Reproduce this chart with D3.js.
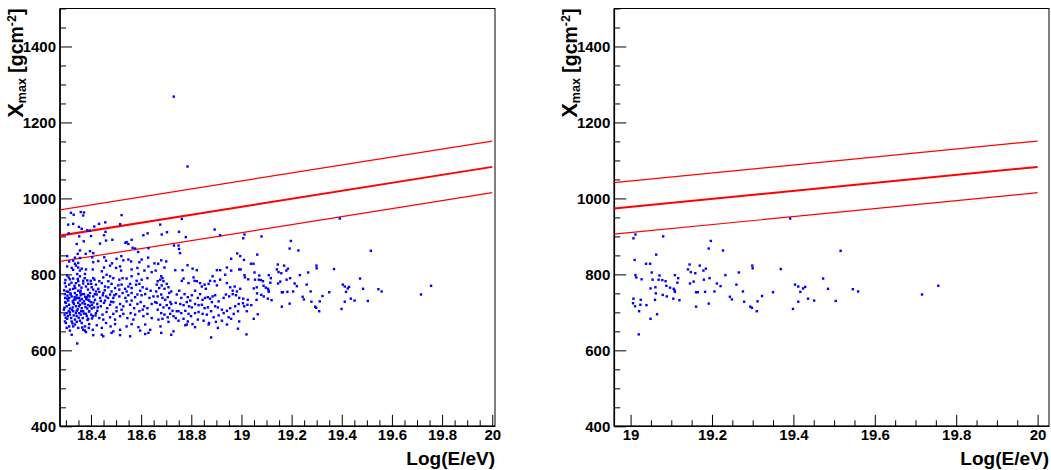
<!DOCTYPE html>
<html><head><meta charset="utf-8">
<script src="https://cdn.jsdelivr.net/npm/d3@7"></script>
<style>
body{margin:0;background:#fff;}
svg{display:block;}
text{font-family:"Liberation Sans",Arial,Helvetica,sans-serif;font-weight:bold;fill:#000;}
</style>
</head><body>
<svg id="c" width="1051" height="470"></svg>
<script>
// ---- data: events [log10(E/eV), Xmax g/cm^2] ----
const eventsBelow19 = [
[18.730,1268],[18.785,1084],
[18.320,962],[18.359,964],[18.372,963],[18.369,955],[18.522,956],[18.329,933],[18.352,925],[18.363,920],[18.413,926],[18.432,933],[18.516,932],[18.385,916],[18.395,915],[18.311,908],[18.458,912],[18.452,903],[18.400,901],[18.626,908],[18.609,903],[18.353,900],[18.371,887],[18.343,880],[18.436,881],[18.485,891],[18.460,889],[18.542,885],[18.549,880],[18.537,883],[18.562,891],[18.576,868],[18.566,870],[18.588,859],[18.629,869],[18.396,861],[18.409,856],[18.379,854],[18.356,863],[18.347,854],[18.305,848],[18.336,844],[18.329,836],[18.356,843],[18.405,845],[18.409,832],[18.429,835],[18.453,845],[18.460,836],[18.484,829],[18.502,841],[18.521,848],[18.529,837],[18.549,839],[18.560,834],[18.593,832],[18.602,839],[18.628,844],[18.653,829],[18.336,828],[18.313,834],[18.349,830],[18.309,931],[18.457,937],[18.331,957],
[18.676,931],[18.762,946],[18.682,905],[18.703,911],[18.751,912],[18.778,898],[18.893,918],[18.915,903],[18.731,876],[18.749,876],[18.751,867],[18.755,856],[18.983,855],[18.959,841],[18.995,848],[18.680,837],[18.700,834],[18.668,828],
[18.305,821],[18.323,817],[18.340,823],[18.349,818],[18.363,815],[18.380,813],[18.407,813],[18.443,808],[18.452,818],[18.476,823],[18.500,817],[18.516,821],[18.520,810],[18.562,813],[18.585,817],[18.613,810],[18.629,821],[18.329,812],[18.356,810],
[18.305,797],[18.316,787],[18.329,789],[18.345,801],[18.356,795],[18.369,783],[18.385,784],[18.399,783],[18.409,790],[18.433,782],[18.449,792],[18.462,799],[18.476,795],[18.489,790],[18.513,786],[18.526,790],[18.542,789],[18.562,795],[18.582,783],[18.589,801],[18.602,786],[18.625,790],[18.642,806],[18.296,777],[18.349,782],[18.376,801],
[18.300,768],[18.313,773],[18.329,762],[18.340,777],[18.353,771],[18.369,776],[18.380,768],[18.389,775],[18.403,766],[18.420,773],[18.429,762],[18.443,777],[18.456,768],[18.469,766],[18.482,775],[18.496,764],[18.509,771],[18.522,773],[18.536,762],[18.549,768],[18.562,764],[18.580,773],[18.593,775],[18.606,766],[18.622,762],[18.638,757],[18.556,775],[18.513,760],[18.409,760],[18.316,760],[18.359,757],[18.469,782],
[18.296,748],[18.309,754],[18.323,742],[18.336,751],[18.345,738],[18.359,745],[18.372,748],[18.383,740],[18.396,751],[18.409,742],[18.423,747],[18.436,738],[18.449,751],[18.460,742],[18.476,747],[18.489,738],[18.500,748],[18.513,742],[18.526,751],[18.537,738],[18.549,745],[18.562,751],[18.576,740],[18.585,747],[18.602,745],[18.616,748],[18.633,738],[18.649,742],[18.305,736],[18.332,733],[18.389,733],[18.482,755],[18.542,755],[18.596,757],[18.433,754],
[18.300,725],[18.313,720],[18.327,729],[18.340,716],[18.349,725],[18.363,711],[18.376,722],[18.389,719],[18.399,727],[18.412,713],[18.425,722],[18.439,716],[18.452,725],[18.465,711],[18.476,720],[18.489,727],[18.502,713],[18.516,722],[18.529,716],[18.542,729],[18.556,720],[18.572,711],[18.585,722],[18.598,727],[18.612,716],[18.625,711],[18.642,722],[18.656,727],[18.316,710],[18.356,731],[18.403,710],[18.456,731],[18.522,707],[18.562,731],[18.606,707],
[18.303,698],[18.316,694],[18.329,703],[18.343,690],[18.353,698],[18.367,685],[18.380,696],[18.393,703],[18.407,690],[18.420,698],[18.433,685],[18.446,694],[18.462,701],[18.476,687],[18.489,696],[18.502,703],[18.516,690],[18.529,696],[18.545,685],[18.558,698],[18.576,694],[18.593,703],[18.609,690],[18.625,696],[18.642,685],[18.305,683],[18.336,681],[18.389,683],[18.449,681],[18.496,681],[18.569,681],
[18.300,672],[18.313,663],[18.323,676],[18.336,668],[18.349,659],[18.363,672],[18.376,663],[18.393,669],[18.407,654],[18.423,666],[18.443,659],[18.460,672],[18.478,663],[18.496,669],[18.516,654],[18.542,663],[18.562,669],[18.589,661],[18.616,668],[18.636,654],[18.316,652],[18.376,652],[18.489,650],[18.596,652],
[18.323,641],[18.380,648],[18.409,640],[18.449,637],[18.482,646],[18.516,640],[18.556,637],[18.616,643],[18.629,646],[18.345,618],[18.443,641],
[18.297,738],[18.303,716],[18.309,731],[18.319,747],[18.327,713],[18.335,740],[18.343,704],[18.349,757],[18.356,720],[18.364,735],[18.369,703],[18.377,741],[18.385,710],[18.393,731],[18.401,694],[18.292,707],[18.311,703],[18.321,685],[18.332,722],[18.359,694],[18.372,729],[18.383,690],[18.396,716],[18.303,755],[18.337,764],[18.364,748],[18.416,733],[18.425,704],[18.353,738],[18.313,738],[18.308,690],[18.295,694],[18.324,707],[18.340,698],[18.361,703],[18.388,745],[18.404,720],[18.415,748],[18.329,663],[18.356,678],[18.303,659],[18.343,675],[18.369,654],[18.296,676],[18.391,659],
[18.298,785],[18.311,792],[18.322,778],[18.334,770],[18.347,788],[18.362,765],[18.375,790],[18.388,760],[18.401,775],[18.414,786],[18.293,758],[18.318,750],[18.343,745],[18.357,752],[18.381,735],[18.394,742],[18.420,755],[18.297,727],[18.306,744],[18.329,726],[18.338,734],[18.352,716],[18.366,724],[18.378,714],[18.392,702],[18.410,726],[18.427,713],[18.294,712],[18.316,700],[18.331,692],[18.347,708],[18.372,697],[18.386,680],[18.404,684],[18.418,692],[18.299,686],[18.326,671],[18.351,686],[18.365,660],[18.439,730],[18.447,745],[18.455,758],[18.468,738],[18.480,728],[18.493,745],
[18.693,818],[18.736,811],[18.765,811],[18.785,824],[18.805,815],[18.822,811],[18.902,811],[18.915,811],[18.942,818],[18.959,810],[18.991,813],[18.997,813],[18.658,810],
[18.666,782],[18.676,786],[18.680,795],[18.685,790],[18.689,782],[18.662,773],[18.672,764],[18.682,771],[18.693,762],[18.702,775],[18.709,766],[18.712,751],[18.720,755],[18.660,755],[18.666,742],[18.680,747],[18.685,738],[18.696,733],[18.706,740],[18.716,727],[18.662,725],[18.676,720],[18.689,713],[18.702,719],[18.712,711],[18.720,722],[18.725,704],[18.666,707],[18.680,698],[18.693,694],[18.706,687],[18.716,696],[18.729,690],[18.738,685],[18.749,703],[18.669,681],[18.685,683],[18.709,675],[18.677,663],[18.680,646],[18.720,641],[18.729,650],
[18.769,789],[18.762,783],[18.789,777],[18.809,792],[18.813,783],[18.822,782],[18.835,777],[18.842,768],[18.853,773],[18.858,762],[18.869,775],[18.875,783],[18.885,795],[18.893,782],[18.902,771],[18.915,786],[18.935,799],[18.942,777],[18.955,766],[18.965,757],[18.973,768],[18.982,755],[18.995,762],
[18.752,757],[18.742,747],[18.760,738],[18.773,748],[18.786,740],[18.796,731],[18.802,745],[18.815,757],[18.826,738],[18.835,748],[18.845,733],[18.855,738],[18.866,740],[18.875,736],[18.885,742],[18.895,745],[18.909,729],[18.929,738],[18.938,747],[18.951,742],[18.965,748],[18.978,745],[18.991,738],
[18.738,725],[18.756,722],[18.769,719],[18.782,727],[18.791,716],[18.802,713],[18.815,722],[18.829,719],[18.842,720],[18.853,711],[18.866,713],[18.882,727],[18.895,716],[18.906,713],[18.922,707],[18.942,704],[18.955,711],[18.975,716],[18.989,722],
[18.742,703],[18.760,698],[18.776,704],[18.789,696],[18.799,690],[18.815,698],[18.829,701],[18.845,696],[18.862,694],[18.879,703],[18.889,687],[18.909,692],[18.929,698],[18.949,687],[18.969,696],[18.986,703],
[18.749,678],[18.769,683],[18.786,676],[18.805,669],[18.826,681],[18.849,678],[18.871,672],[18.898,675],[18.922,678],[18.959,683],[18.991,676],[18.776,666],[18.815,661],[18.869,668],[18.906,659],[18.942,668],[18.986,657],[18.879,634],[18.782,668]
];
const eventsAbove19 = [
[19.012,905],[19.007,895],[19.080,900],[19.010,838],[19.197,888],[19.192,868],[19.227,863],[19.063,852],[19.038,828],[19.048,828],[19.145,826],[19.170,823],[19.141,813],[19.185,815],[19.179,810],[19.148,806],[19.159,803],[19.052,805],[19.012,798],[19.014,792],[19.027,787],[19.071,797],[19.054,786],[19.069,786],[19.078,785],[19.086,782],[19.109,798],[19.117,790],[19.115,778],[19.180,786],[19.194,790],[19.146,776],[19.155,781],[19.233,798],[19.212,776],[19.221,769],[19.266,805],[19.299,823],[19.300,816],[19.260,773],[19.088,770],[19.097,765],[19.049,763],[19.061,766],[19.106,762],[19.108,758],[19.062,750],[19.109,754],[19.161,753],[19.165,753],[19.183,754],[19.206,755],[19.276,755],[19.350,753],[19.369,814],[19.079,746],[19.089,742],[19.244,741],[19.249,734],[19.323,743],[19.060,733],[19.105,736],[19.120,732],[19.007,736],[19.025,733],[19.279,728],[19.312,729],[19.006,724],[19.011,716],[19.024,720],[19.039,719],[19.192,723],[19.161,715],[19.294,715],[19.298,712],[19.310,703],[19.021,703],[19.065,695],[19.049,683],[19.020,642],
[19.392,947],[19.516,862],[19.473,789],[19.485,762],[19.404,773],[19.412,768],[19.417,754],[19.424,763],[19.429,767],[19.436,736],[19.451,731],[19.412,728],[19.399,709],[19.504,730],[19.546,761],[19.559,755],[19.716,747],[19.756,770]
];
const lineEnergy = [18.0, 20.0];
const lineCentre = [873, 1083];
const lineUpper  = [941, 1151];
const lineLower  = [805, 1015];
const xTicksLeft  = [18.4, 18.6, 18.8, 19, 19.2, 19.4, 19.6, 19.8, 20];
const xTicksRight = [19, 19.2, 19.4, 19.6, 19.8, 20];
const yTicks = [400, 600, 800, 1000, 1200, 1400];
const xTitle = "Log(E/eV)";

// ---- drawing ----
const svg = d3.select("#c");
const plotTop = 8.5, plotBottom = 426.3;
const panels = [
  {left:60,    right:495,  xDomain:[18.2764, 20.011], data: eventsBelow19.concat(eventsAbove19), xTicks: xTicksLeft},
  {left:614.3, right:1049, xDomain:[18.960, 20.028],  data: eventsAbove19, xTicks: xTicksRight}
];
const fmt = d => String(+(+d).toFixed(2));
const labelStyle = sel => sel.style("font-size", "15px")
  .style("font-family", '"Liberation Sans",Arial,sans-serif').style("font-weight", "bold").attr("fill", "#000");

panels.forEach((p, i) => {
  const x = d3.scaleLinear().domain(p.xDomain).range([p.left, p.right]);
  const y = d3.scaleLinear().domain([400, 1500]).range([plotBottom, plotTop]);
  const g = svg.append("g");

  const cid = "clip" + i;
  svg.append("clipPath").attr("id", cid).append("rect")
    .attr("x", p.left).attr("y", plotTop).attr("width", p.right - p.left).attr("height", plotBottom - plotTop);

  const xMinor = d3.range(Math.ceil(p.xDomain[0] * 20), Math.floor(p.xDomain[1] * 20) + 1).map(k => k / 20)
    .filter(v => !p.xTicks.some(t => Math.abs(t - v) < 1e-6));
  const yMinor = d3.range(450, 1501, 50).filter(v => !yTicks.includes(v));

  const xAxisMinor = d3.axisBottom(x).tickValues(xMinor).tickSize(-6).tickFormat("");
  const xAxis = d3.axisBottom(x).tickValues(p.xTicks).tickSize(-11.5).tickPadding(3.5).tickFormat(fmt);
  const yAxisMinor = d3.axisLeft(y).tickValues(yMinor).tickSize(-6).tickFormat("");
  const yAxis = d3.axisLeft(y).tickValues(yTicks).tickSize(-12).tickPadding(4).tickFormat(fmt);

  [xAxisMinor, xAxis].forEach(ax => {
    const a = g.append("g").attr("transform", `translate(0,${plotBottom})`).call(ax);
    a.select(".domain").remove();
    a.selectAll("line").attr("stroke", "#000").attr("stroke-width", 1);
    labelStyle(a.selectAll("text"));
  });
  [yAxisMinor, yAxis].forEach(ax => {
    const a = g.append("g").attr("transform", `translate(${p.left},0)`).call(ax);
    a.select(".domain").remove();
    a.selectAll("line").attr("stroke", "#000").attr("stroke-width", 1);
    labelStyle(a.selectAll("text"));
  });

  g.append("rect").attr("x", p.left).attr("y", plotTop).attr("width", p.right - p.left).attr("height", plotBottom - plotTop)
    .attr("fill", "none").attr("stroke", "#000").attr("stroke-width", 1);
  g.append("line").attr("x1", p.left).attr("x2", p.left).attr("y1", plotTop).attr("y2", plotBottom).attr("stroke", "#000").attr("stroke-width", 1.6);
  g.append("line").attr("x1", p.left).attr("x2", p.right).attr("y1", plotBottom).attr("y2", plotBottom).attr("stroke", "#000").attr("stroke-width", 1.6);

  const lineGen = d3.line().x(d => x(d[0])).y(d => y(d[1]));
  const lg = g.append("g").attr("clip-path", `url(#${cid})`);
  [[lineUpper, 1.2], [lineCentre, 2], [lineLower, 1.2]].forEach(([vals, w]) => {
    lg.append("path").datum(lineEnergy.map((e, k) => [e, vals[k]]))
      .attr("d", lineGen).attr("fill", "none").attr("stroke", "#ff0000").attr("stroke-width", w);
  });

  const pg = g.append("g").attr("clip-path", `url(#${cid})`);
  pg.selectAll("rect").data(p.data).join("rect")
    .attr("x", d => x(d[0]) - 1.2).attr("y", d => y(d[1]) - 1.2)
    .attr("width", 2.4).attr("height", 2.4).attr("fill", "#0000ff");

  g.append("text").attr("x", p.right).attr("y", 465).attr("text-anchor", "end")
    .style("font-size", "19px").text(xTitle);

  const yt = g.append("text").attr("transform", `translate(${p.left - 37},${plotTop}) rotate(-90)`)
    .attr("text-anchor", "end").style("font-size", "19.5px");
  yt.append("tspan").style("font-size", "22px").text("X");
  yt.append("tspan").attr("dy", 3).style("font-size", "12.5px").text("max");
  yt.append("tspan").attr("dy", -3).text(" [gcm");
  yt.append("tspan").attr("dy", -7.5).style("font-size", "12.5px").text("-2");
  yt.append("tspan").attr("dy", 7.5).text("]");
});
</script>
</body></html>
